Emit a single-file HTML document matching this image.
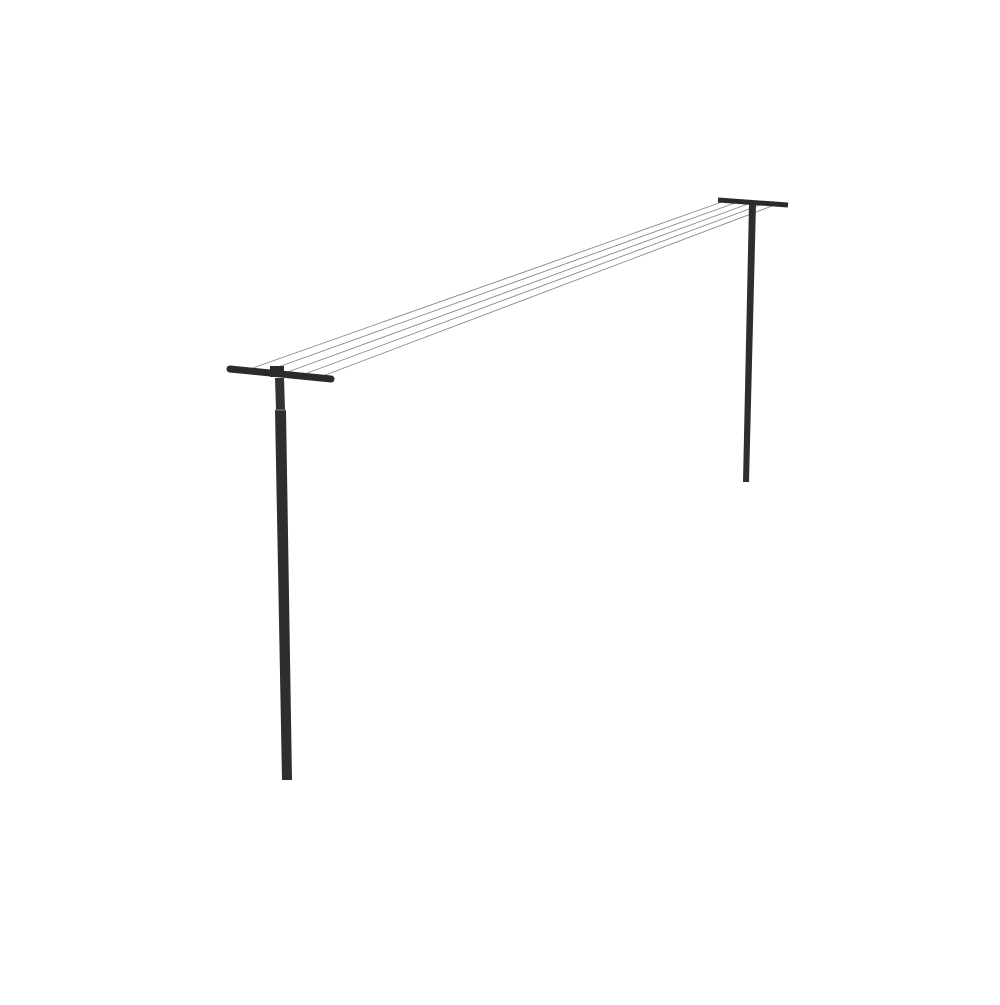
<!DOCTYPE html>
<html><head><style>html,body{margin:0;padding:0;background:#fff}</style></head>
<body>
<svg width="1000" height="1000" viewBox="0 0 1000 1000" xmlns="http://www.w3.org/2000/svg">
<g stroke="#8a8a8a" stroke-width="0.9" fill="none">
<line x1="250" y1="369" x2="722" y2="202"/>
<line x1="267" y1="371" x2="735" y2="203"/>
<line x1="285" y1="373" x2="748" y2="204"/>
<line x1="302" y1="375" x2="760" y2="205"/>
<line x1="320" y1="377" x2="772" y2="206"/>
</g>
<!-- left post -->
<polygon points="275,378 284,378 285,410 276,410" fill="#333"/>
<polygon points="275,410 286,410 292,780 282,780" fill="#2e2e2e"/>
<line x1="275" y1="410" x2="286" y2="410" stroke="#888" stroke-width="1"/>
<line x1="230" y1="369" x2="331" y2="379" stroke="#2b2b2b" stroke-width="7" stroke-linecap="round"/>
<rect x="270" y="366" width="14" height="11" fill="#2b2b2b"/>
<!-- right post -->
<polygon points="749,204 756,204 749,482 743,482" fill="#2e2e2e"/>
<line x1="718" y1="200" x2="788" y2="205" stroke="#2b2b2b" stroke-width="5" stroke-linecap="butt"/>
</svg>
</body></html>
